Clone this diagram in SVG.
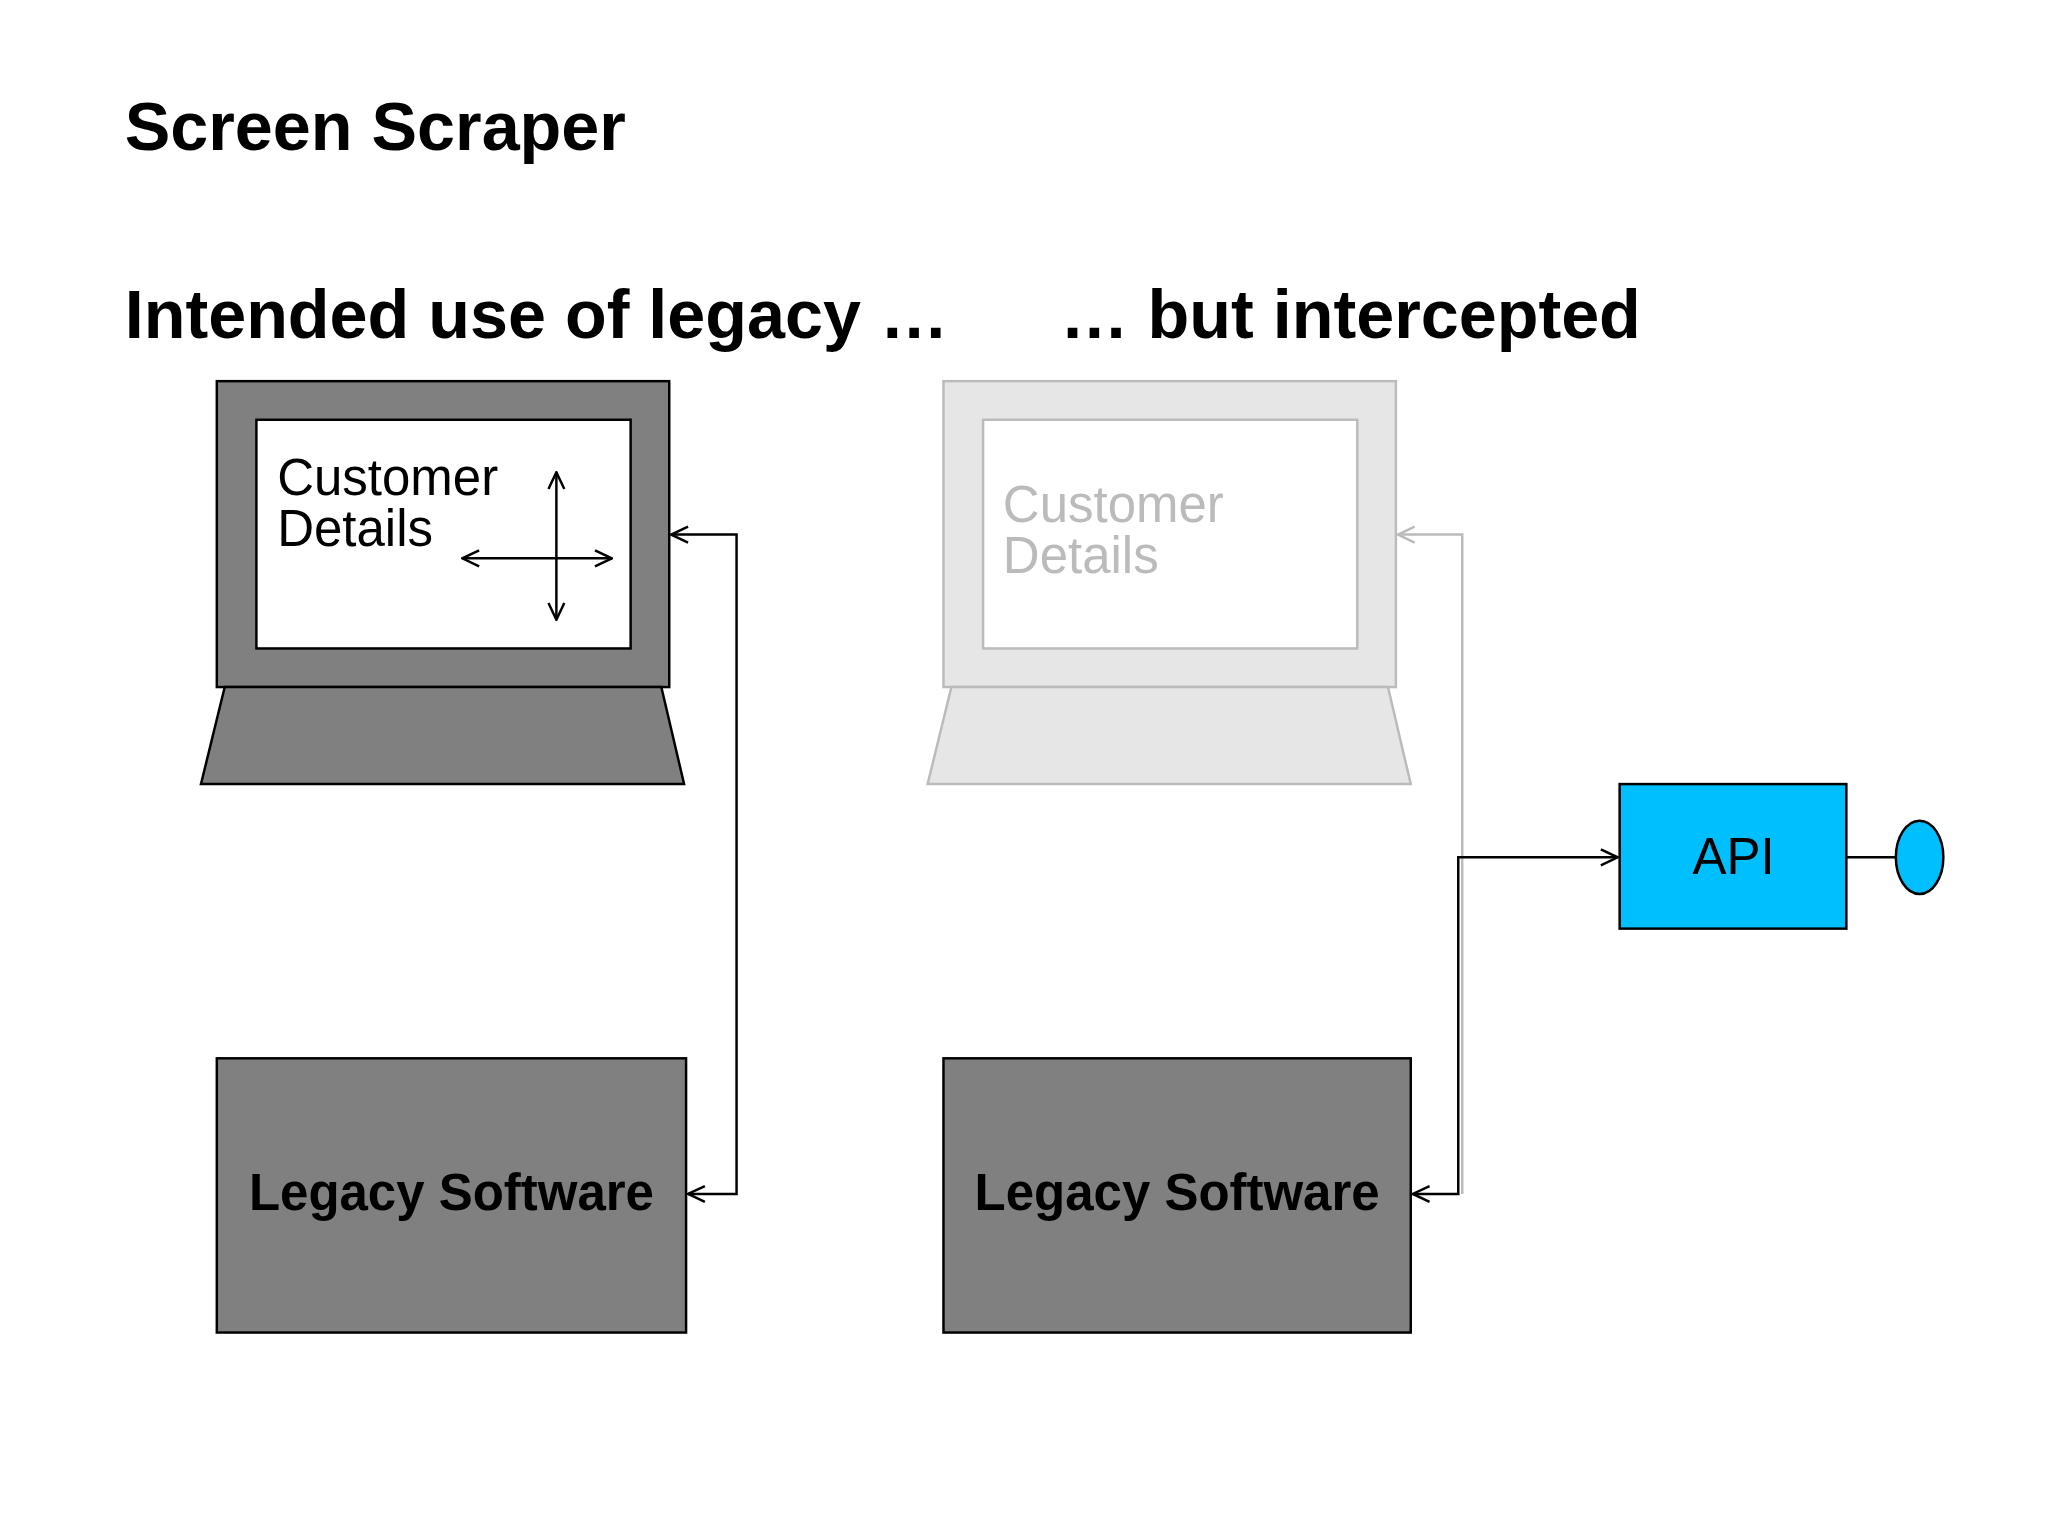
<svg xmlns="http://www.w3.org/2000/svg" width="2048" height="1536" viewBox="0 0 2048 1536">
<style>
text{font-family:"Liberation Sans",Arial,sans-serif}
.h{font-size:69px;font-weight:bold}
.t{font-size:51.5px}
.dk{fill:#808080;stroke:#000;stroke-width:2.5}
.lt{fill:#e6e6e6;stroke:#bbb;stroke-width:2.5}
.c{fill:none;stroke:#000;stroke-width:2.5}
.cg{fill:none;stroke:#bbb;stroke-width:2.5}
</style>
<defs>
<marker id="a" viewBox="0 0 20 20" refX="19" refY="10" markerWidth="20" markerHeight="20" markerUnits="userSpaceOnUse" orient="auto-start-reverse"><path d="M2,2 L19,10 L2,18" fill="none" stroke="#000" stroke-width="2.5"/></marker>
<marker id="ag" viewBox="0 0 20 20" refX="19" refY="10" markerWidth="20" markerHeight="20" markerUnits="userSpaceOnUse" orient="auto-start-reverse"><path d="M2,2 L19,10 L2,18" fill="none" stroke="#bbb" stroke-width="2.5"/></marker>
</defs>
<rect width="2048" height="1536" fill="#fff"/>
<g transform="scale(0.99)">
<text class="h" x="126" y="152">Screen Scraper</text>
<text class="h" x="126" y="341">Intended use of legacy …</text>
<text class="h" x="1071" y="341">… but intercepted</text>
<g id="laptop1">
<rect class="dk" x="219" y="385" width="457" height="309"/>
<rect x="259" y="424" width="378" height="231" fill="#fff" stroke="#000" stroke-width="2.5"/>
<polygon class="dk" points="227,694 668,694 691,792 203,792"/>
<text class="t" x="280" y="500">Customer</text>
<text class="t" x="280" y="552">Details</text>
<line class="c" x1="562" y1="477" x2="562" y2="626" marker-start="url(#a)" marker-end="url(#a)"/>
<line class="c" x1="467" y1="564" x2="618" y2="564" marker-start="url(#a)" marker-end="url(#a)"/>
</g>
<g id="laptop2">
<rect class="lt" x="953" y="385" width="457" height="309"/>
<rect x="993" y="424" width="378" height="231" fill="#fff" stroke="#bbb" stroke-width="2.5"/>
<polygon class="lt" points="961,694 1402,694 1425,792 937,792"/>
<text class="t" x="1013" y="527" fill="#bbb">Customer</text>
<text class="t" x="1013" y="579" fill="#bbb">Details</text>
</g>
<g id="legacy1">
<rect class="dk" x="219" y="1069" width="474" height="277"/>
<text class="t" x="456" y="1222" text-anchor="middle" font-weight="bold">Legacy Software</text>
</g>
<g id="legacy2">
<rect class="dk" x="953" y="1069" width="472" height="277"/>
<text class="t" x="1189" y="1222" text-anchor="middle" font-weight="bold">Legacy Software</text>
</g>
<g id="api">
<rect x="1636" y="792" width="229" height="146" fill="#00bfff" stroke="#000" stroke-width="2.5"/>
<text class="t" x="1751" y="883" text-anchor="middle">API</text>
<line class="c" x1="1865" y1="866" x2="1915" y2="866"/>
<ellipse cx="1939" cy="866" rx="24" ry="37" fill="#00bfff" stroke="#000" stroke-width="2.5"/>
</g>
<g id="connectors">
<polyline class="c" points="678,540 744,540 744,1206 695,1206" marker-start="url(#a)" marker-end="url(#a)"/>
<polyline class="cg" points="1477,1206 1477,540 1412,540" marker-end="url(#ag)"/>
<polyline class="c" points="1427,1206 1473,1206 1473,866 1634,866" marker-start="url(#a)" marker-end="url(#a)"/>
</g>
</g>
</svg>
